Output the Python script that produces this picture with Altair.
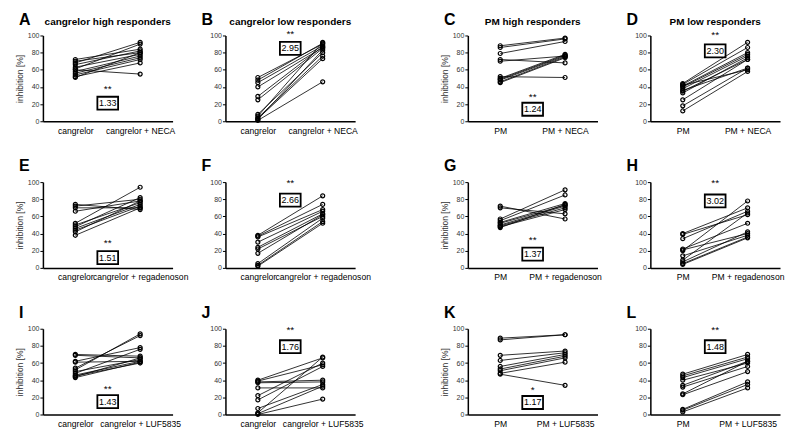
import altair as alt
import pandas as pd

FONT = "Liberation Sans"

letters = ["A", "B", "C", "D", "E", "F", "G", "H", "I", "J", "K", "L"]
headings = ["cangrelor high responders", "cangrelor low responders",
            "PM high responders", "PM low responders"] + [""] * 8
drugs = ["cangrelor", "cangrelor", "PM", "PM"] * 3
agonists = ["NECA"] * 4 + ["regadenoson"] * 4 + ["LUF5835"] * 4
ratios = ["1.33", "2.95", "1.24", "2.30", "1.51", "2.66", "1.37", "3.02", "1.43", "1.76", "1.17", "1.48"]
stars = ["**"] * 10 + ["*", "**"]
star_y = [38, 102, 28, 101, 29, 99, 32, 99, 30, 98, 29, 99]
ratio_y = [21, 85, 14, 82, 12, 79, 16, 78, 15, 79, 14, 79]
y_ticks = [0, 20, 40, 60, 80, 100]

before = {
    "A": [72, 70, 68, 66, 63, 61, 60, 58, 56, 54, 52, 51],
    "B": [51, 48, 45, 40, 29, 25, 8, 6, 4, 3, 2, 1],
    "C": [88, 86, 79, 72, 70, 52, 50, 49, 48, 46, 45],
    "D": [44, 43, 42, 41, 40, 38, 36, 35, 33, 25, 18, 12],
    "E": [74, 72, 70, 66, 52, 50, 48, 46, 44, 42, 38],
    "F": [38, 37, 36, 30, 24, 22, 17, 5, 3, 2],
    "G": [72, 70, 57, 55, 53, 52, 50, 49, 48, 47],
    "H": [40, 39, 34, 22, 21, 20, 14, 9, 7, 5, 4],
    "I": [70, 69, 62, 61, 54, 52, 50, 48, 46, 45, 44, 43],
    "J": [40, 39, 38, 37, 31, 22, 17, 7, 2, 1, 0],
    "K": [89, 87, 69, 63, 56, 53, 51, 48, 47],
    "L": [47, 45, 43, 40, 34, 32, 24, 23, 6, 5, 3],
}
after = {
    "A": [84, 80, 92, 82, 78, 90, 55, 76, 74, 72, 68, 80],
    "B": [90, 91, 88, 86, 87, 85, 80, 92, 76, 73, 83, 46],
    "C": [97, 96, 93, 68, 76, 51, 78, 77, 76, 75, 74],
    "D": [92, 86, 60, 80, 78, 76, 62, 72, 74, 72, 62, 58],
    "E": [68, 80, 70, 78, 94, 76, 82, 74, 72, 78, 70],
    "F": [84, 74, 68, 66, 63, 60, 62, 58, 54, 52],
    "G": [57, 63, 91, 85, 75, 73, 72, 70, 68, 74],
    "H": [70, 62, 66, 52, 40, 78, 38, 64, 42, 36, 35],
    "I": [68, 66, 78, 62, 92, 94, 64, 76, 62, 60, 66, 61],
    "J": [66, 58, 40, 38, 31, 60, 56, 35, 67, 33, 18],
    "K": [93, 93, 74, 72, 70, 68, 66, 61, 34],
    "L": [70, 67, 65, 60, 62, 56, 62, 50, 38, 35, 31],
}

W, H = 130, 86
BOX = "M-1.6,-1L1.6,-1L1.6,1L-1.6,1Z"


def panel(i):
    L = letters[i]
    lab0 = drugs[i]
    lab1 = f"{drugs[i]} + {agonists[i]}"
    b, a = before[L], after[L]
    df = pd.DataFrame({
        "id": list(range(len(b))) * 2,
        "cond": [lab0] * len(b) + [lab1] * len(a),
        "value": b + a,
    })
    x = alt.X("cond:N", sort=[lab0, lab1],
              scale=alt.Scale(type="point", padding=0.5),
              axis=alt.Axis(title=None, labelAngle=0, ticks=False, domainColor="black",
                            domainWidth=1.5, labelFontSize=8.6, labelColor="black",
                            labelPadding=5, labelOverlap=False, labelLimit=300, labelFont=FONT))
    yscale = alt.Scale(domain=[0, 100], nice=False)
    yaxis = alt.Axis(values=y_ticks, tickCount=6, grid=False, domainColor="black",
                     domainWidth=1.5, tickColor="black", tickSize=3, tickWidth=1,
                     labelFontSize=7, labelColor="#333333", labelPadding=1, labelFont=FONT,
                     labelOverlap=False, labelBound=False, labelFlush=False,
                     title="inhibition [%]" if i % 2 == 0 else None,
                     titleFontSize=8.5, titleFontWeight="normal", titleColor="#333333",
                     titlePadding=3, titleFont=FONT)
    y = alt.Y("value:Q", scale=yscale, axis=yaxis)
    base = alt.Chart(df)
    lines = base.mark_line(color="black", strokeWidth=0.8).encode(x=x, y=y, detail="id:N")
    pts = base.mark_point(shape="circle", size=16, filled=False, color="black",
                          strokeWidth=1.2, opacity=1).encode(x=x, y=y)
    sdf = pd.DataFrame({"value": [star_y[i]], "t": [stars[i]]})
    star = alt.Chart(sdf).mark_text(fontSize=10, font=FONT, color="black", baseline="middle").encode(
        x=alt.value(W / 2), y=y, text="t:N")
    rdf = pd.DataFrame({"value": [ratio_y[i]], "t": [ratios[i]]})
    box = alt.Chart(rdf).mark_point(shape=BOX, size=169, filled=False, color="black",
                                    strokeWidth=1.8, opacity=1).encode(x=alt.value(W / 2), y=y)
    rtxt = alt.Chart(rdf).mark_text(fontSize=9, font=FONT, color="black", baseline="middle").encode(
        x=alt.value(W / 2), y=y, text="t:N")
    ldf = pd.DataFrame({"t": [L]})
    let = alt.Chart(ldf).mark_text(fontSize=16, fontWeight="bold", font=FONT, color="black",
                                   align="left", baseline="alphabetic").encode(
        x=alt.value(-24), y=alt.value(-11), text="t:N")
    layers = [lines, pts, star, box, rtxt, let]
    if headings[i]:
        hdf = pd.DataFrame({"t": [headings[i]]})
        head = alt.Chart(hdf).mark_text(fontSize=10, fontWeight="bold", font=FONT, color="black",
                                        align="center", baseline="alphabetic").encode(
            x=alt.value(W / 2), y=alt.value(-11), text="t:N")
        layers.append(head)
    return alt.layer(*layers).properties(width=W, height=H)


def spacer():
    return alt.Chart(pd.DataFrame({"v": [0]})).mark_point(opacity=0).encode(
        x=alt.value(0), y=alt.value(0)).properties(width=7, height=H)


cells = []
for r in range(3):
    for c in range(4):
        if c == 2:
            cells.append(spacer())
        cells.append(panel(r * 4 + c))

chart = alt.concat(*cells, columns=5, spacing={"row": 61, "column": 53}, bounds="flush").properties(
    padding={"left": 7, "top": 3, "right": 5, "bottom": 5}
).configure(font=FONT).configure_view(strokeWidth=0, stroke="transparent")

chart.save("out.html", embed_options={"renderer": "svg", "actions": False})
